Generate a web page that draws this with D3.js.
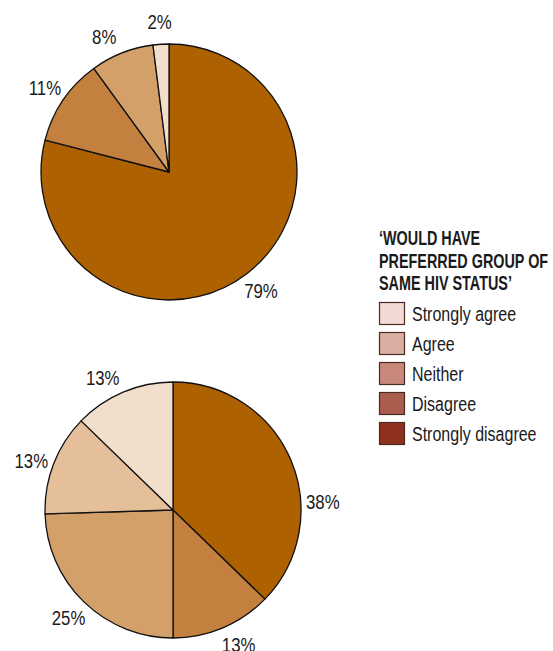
<!DOCTYPE html>
<html>
<head>
<meta charset="utf-8">
<script src="https://cdn.jsdelivr.net/npm/d3@7"></script>
<style>
  html, body { margin: 0; padding: 0; background: #fff; }
  svg { display: block; }
  text { font-family: "Liberation Sans Narrow", "Liberation Sans", Arial, sans-serif; fill: #1a1a1a; }
</style>
</head>
<body>
<svg id="chart" width="553" height="651"></svg>
<script>
// Response categories, ordered from "Strongly disagree" round to "Strongly agree"
const categories = ["Strongly disagree", "Disagree", "Neither", "Agree", "Strongly agree"];

// Upper pie: percentage share per category
const topValues = [79, 11, 8, 0, 2];
// Lower pie: percentage share per category
const bottomValues = [38, 13, 25, 13, 13];

// Slice fills (per category, same order)
const sliceColors = ["#AD6100", "#C4803F", "#D4A06A", "#E5BF99", "#F1DFCC"];

// Legend entries (listed top to bottom) and swatch colours
const legendTitle = ["‘WOULD HAVE", "PREFERRED GROUP OF", "SAME HIV STATUS’"];
const legendLabels = ["Strongly agree", "Agree", "Neither", "Disagree", "Strongly disagree"];
const legendColors = ["#F1DAD4", "#DAAEA3", "#C8887C", "#AA5D4C", "#90311E"];

// Condensed look: horizontal squeeze applied to every text
const SQUEEZE = 0.8;

const svg = d3.select("#chart");
const R = 128;

const pie = d3.pie().sort(null).value(d => d.value);
const arc = d3.arc().innerRadius(0).outerRadius(R);

function drawPie(values, cx, cy, labelRadius, angleNudge) {
  const data = categories.map((c, i) => ({ cat: c, value: values[i], color: sliceColors[i] }))
    .filter(d => d.value > 0);
  const g = svg.append("g").attr("transform", `translate(${cx},${cy})`);
  const arcs = pie(data);

  g.selectAll("path.slice")
    .data(arcs)
    .join("path")
    .attr("class", "slice")
    .attr("d", arc)
    .attr("fill", d => d.data.color)
    .attr("stroke", "#111")
    .attr("stroke-width", 1.3)
    .attr("stroke-linejoin", "round");

  g.selectAll("text.pct")
    .data(arcs)
    .join("text")
    .attr("class", "pct")
    .attr("text-anchor", "middle")
    .attr("dominant-baseline", "central")
    .attr("font-size", 21)
    .attr("transform", (d, i) => {
      const a = (d.startAngle + d.endAngle) / 2 + (angleNudge[i] || 0) * Math.PI / 180;
      return `translate(${labelRadius * Math.sin(a)},${-labelRadius * Math.cos(a)}) scale(${SQUEEZE},1)`;
    })
    .text(d => d.data.value + "%");
}

drawPie(topValues, 169, 172, 150, [0, 0, -4, 0]);
drawPie(bottomValues, 173, 510, 150, [20, -3, 0, -2, -5]);

// Legend
const lg = svg.append("g").attr("transform", "translate(379,0)");
lg.selectAll("text.title")
  .data(legendTitle)
  .join("text")
  .attr("class", "title")
  .attr("transform", (d, i) => `translate(0,${245 + i * 22.5}) scale(0.72,1)`)
  .attr("font-size", 20)
  .attr("font-weight", "bold")
  .text(d => d);

const items = lg.selectAll("g.item")
  .data(legendLabels.map((l, i) => ({ label: l, color: legendColors[i] })))
  .join("g")
  .attr("class", "item")
  .attr("transform", (d, i) => `translate(0,${302 + i * 30})`);

items.append("rect")
  .attr("x", 0.5).attr("y", 0.5)
  .attr("width", 25).attr("height", 22)
  .attr("fill", d => d.color)
  .attr("stroke", "#4a2a22")
  .attr("stroke-width", 1.2);

items.append("text")
  .attr("transform", `translate(33,18.5) scale(${SQUEEZE},1)`)
  .attr("font-size", 20)
  .text(d => d.label);
</script>
</body>
</html>
